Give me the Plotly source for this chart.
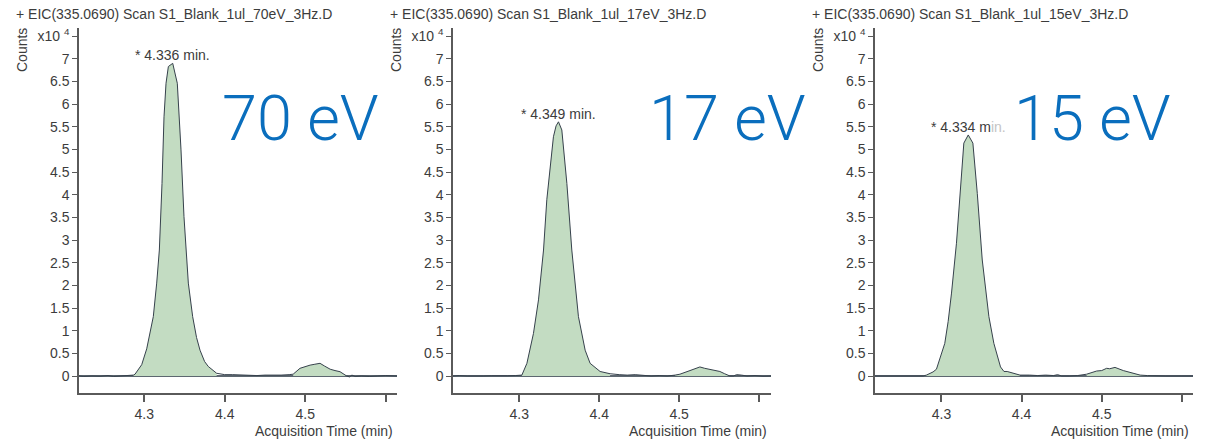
import plotly.graph_objects as go

W, H = 1209, 442

# ---------------- data (counts in units of 1e4) ----------------
titles = [
    "+ EIC(335.0690) Scan S1_Blank_1ul_70eV_3Hz.D",
    "+ EIC(335.0690) Scan S1_Blank_1ul_17eV_3Hz.D",
    "+ EIC(335.0690) Scan S1_Blank_1ul_15eV_3Hz.D",
]
energy_labels = ["70 eV", "17 eV", "15 eV"]
peak_labels = ["* 4.336 min.", "* 4.349 min.", "* 4.334 m<span style='color:#c4c4c4'>in.</span>"]
peak_times = [4.3354, 4.349, 4.3334]
peak_heights = [6.90, 5.61, 5.32]

t_70 = [4.219, 4.225, 4.235, 4.245, 4.255, 4.262, 4.270, 4.278, 4.2865, 4.2886,
        4.2948, 4.2969, 4.3031, 4.3113, 4.3155, 4.3188, 4.3221, 4.3246, 4.3271, 4.3300,
        4.3354, 4.3411, 4.3457, 4.3494, 4.3548, 4.3602, 4.3650, 4.3693, 4.3750, 4.3796,
        4.3900, 4.4000, 4.4100, 4.4200, 4.4300, 4.4400, 4.4500, 4.4600, 4.4700, 4.4800,
        4.4850, 4.4935, 4.5000, 4.5060, 4.5120, 4.5184, 4.5240, 4.5310, 4.5370, 4.5432,
        4.5515, 4.5550, 4.5580, 4.5620, 4.5700, 4.5800, 4.5900, 4.6000, 4.6140]
v_70 = [0.00, -0.01, 0.00, -0.005, 0.01, -0.01, 0.00, 0.01, 0.02, 0.04,
        0.20, 0.25, 0.60, 1.31, 2.05, 2.78, 4.25, 5.72, 6.46, 6.83,
        6.90, 6.46, 4.99, 3.52, 2.05, 1.31, 0.85, 0.57, 0.32, 0.21,
        0.06, 0.03, 0.03, 0.02, 0.02, 0.01, 0.02, 0.015, 0.02, 0.03,
        0.04, 0.17, 0.21, 0.24, 0.26, 0.28, 0.22, 0.15, 0.12, 0.095,
        0.00, -0.02, 0.02, -0.01, 0.00, -0.01, 0.00, 0.01, 0.00]

t_17 = [4.217, 4.225, 4.235, 4.245, 4.255, 4.265, 4.275, 4.285, 4.295, 4.3032,
        4.3095, 4.3177, 4.3240, 4.3303, 4.3344, 4.3386, 4.3427, 4.3460, 4.3490, 4.3532,
        4.3595, 4.3657, 4.3740, 4.3824, 4.3886, 4.4011, 4.4136, 4.4250, 4.4350, 4.4450,
        4.4550, 4.4650, 4.4750, 4.4850, 4.4950, 4.5010, 4.5136, 4.5260, 4.5320, 4.5386,
        4.5450, 4.5510, 4.5570, 4.5636, 4.5680, 4.5720, 4.5780, 4.5850, 4.5950, 4.6050,
        4.6150]
v_17 = [0.00, 0.01, 0.00, -0.005, 0.00, 0.005, 0.00, 0.005, 0.01, 0.02,
        0.28, 0.94, 1.68, 2.78, 3.89, 4.62, 5.28, 5.52, 5.61, 5.43,
        4.25, 2.78, 1.31, 0.57, 0.28, 0.10, 0.05, 0.03, 0.02, 0.03,
        0.01, 0.00, 0.01, 0.00, 0.02, 0.04, 0.12, 0.20, 0.17, 0.15,
        0.12, 0.10, 0.05, 0.00, 0.00, 0.03, 0.02, 0.00, 0.01, -0.005,
        0.00]

t_15 = [4.217, 4.230, 4.240, 4.250, 4.260, 4.270, 4.2770, 4.2812, 4.2895, 4.2937,
        4.2979, 4.3041, 4.3083, 4.3125, 4.3187, 4.3229, 4.3279, 4.3334, 4.3392, 4.3447,
        4.3509, 4.3592, 4.3654, 4.3737, 4.3780, 4.3820, 4.3895, 4.3980, 4.4100, 4.4200,
        4.4300, 4.4400, 4.4450, 4.4500, 4.4600, 4.4700, 4.4812, 4.4937, 4.5000, 4.5062,
        4.5100, 4.5166, 4.5270, 4.5395, 4.5480, 4.5570, 4.5670, 4.5800, 4.6000, 4.6140]
v_15 = [0.00, 0.00, 0.00, 0.00, 0.00, 0.00, 0.00, 0.02, 0.09, 0.15,
        0.37, 0.72, 1.20, 1.83, 2.93, 4.03, 5.14, 5.32, 5.14, 4.03,
        2.56, 1.31, 0.72, 0.20, 0.10, 0.10, 0.06, 0.02, 0.02, 0.01,
        0.02, 0.01, 0.03, 0.00, 0.00, 0.01, 0.04, 0.11, 0.12, 0.17,
        0.16, 0.19, 0.12, 0.07, 0.02, 0.01, 0.00, 0.00, 0.00, 0.00]

times = [t_70, t_17, t_15]
values = [v_70, v_17, v_15]
# integrated (filled) windows per panel: (start, end)
fill_windows = [
    [(4.2865, 4.3950), (4.4850, 4.5515)],
    [(4.3032, 4.4136), (4.4950, 4.5636)],
    [(4.2770, 4.3980), (4.4812, 4.5670)],
]

x_ranges = [[4.219, 4.614], [4.217, 4.615], [4.217, 4.614]]
x_tickvals = [4.3, 4.4, 4.5]
x_ticktext = ["4.3", "4.4", "4.5"]
x_unlabelled_ticks = [4.6]
y_tickvals = [0, 0.5, 1, 1.5, 2, 2.5, 3, 3.5, 4, 4.5, 5, 5.5, 6, 6.5, 7, 7.5]
y_ticktext = ["0", "0.5", "1", "1.5", "2", "2.5", "3", "3.5", "4", "4.5", "5",
              "5.5", "6", "6.5", "7", "x10 <sup>4</sup>"]

# ---------------- styling ----------------
LINE = "#36414c"
FILL = "#c3dcc2"
AXIS = "#5a5a5a"
TXT = "#3c3c3c"
BLUE = "#0a6ebd"
FONT = "Liberation Sans, Arial, sans-serif"
FS = 14

# pixel layout of the three panels
x_left_px = [79, 453, 875]
x_right_px = [397, 771, 1193]
y_top_px, y_bot_px = 28, 393

fig = go.Figure()
layout = dict(
    width=W, height=H, margin=dict(l=0, r=0, t=0, b=0),
    paper_bgcolor="white", plot_bgcolor="white", showlegend=False,
    font=dict(family=FONT, color=TXT, size=FS),
)
annotations = []

for i in range(3):
    sfx = "" if i == 0 else str(i + 1)
    xa, ya = "x" + sfx, "y" + sfx
    t, v = times[i], values[i]
    for (a, b) in fill_windows[i]:
        ft = [tt for tt in t if a <= tt <= b]
        fv = [vv for tt, vv in zip(t, v) if a <= tt <= b]
        fig.add_trace(go.Scatter(x=ft, y=fv, mode="lines", fill="tozeroy",
                                 fillcolor=FILL, line=dict(width=0, color=FILL),
                                 xaxis=xa, yaxis=ya, hoverinfo="skip"))
    fig.add_trace(go.Scatter(x=t, y=v, mode="lines",
                             line=dict(color=LINE, width=1),
                             xaxis=xa, yaxis=ya))

    layout["xaxis" + sfx] = dict(
        domain=[x_left_px[i] / W, x_right_px[i] / W], anchor=ya,
        range=x_ranges[i], showgrid=False, zeroline=False,
        showline=True, linecolor=AXIS, linewidth=1.5,
        ticks="outside", ticklen=7, tickcolor=AXIS, tickwidth=1.5,
        tickvals=x_tickvals, ticktext=x_ticktext,
        minor=dict(tickvals=x_unlabelled_ticks, ticks="outside", ticklen=7,
                   tickcolor=AXIS, tickwidth=1.5, showgrid=False),
        tickfont=dict(size=FS, color=TXT, family=FONT), automargin=False,
    )
    layout["yaxis" + sfx] = dict(
        domain=[1 - y_bot_px / H, 1 - y_top_px / H], anchor=xa,
        range=[-0.375, 7.68], showgrid=False,
        zeroline=True, zerolinecolor="#5d6770", zerolinewidth=1.5,
        showline=True, linecolor=AXIS, linewidth=1.5,
        ticks="outside", ticklen=5, tickcolor=AXIS, tickwidth=1,
        tickvals=y_tickvals, ticktext=y_ticktext,
        tickfont=dict(size=FS, color=TXT, family=FONT), automargin=False,
    )

    # panel title
    annotations.append(dict(xref="paper", yref="paper",
                            x=(x_left_px[i] - 65) / W, y=1 - 4 / H,
                            xanchor="left", yanchor="top", showarrow=False,
                            text=titles[i], font=dict(size=FS, color=TXT, family=FONT)))
    # y axis title
    annotations.append(dict(xref="paper", yref="paper",
                            x=(x_left_px[i] - 57) / W, y=1 - 50 / H,
                            xanchor="center", yanchor="middle", showarrow=False,
                            textangle=-90, text="Counts",
                            font=dict(size=FS, color=TXT, family=FONT)))
    # x axis title
    annotations.append(dict(xref="paper", yref="paper",
                            x=(x_right_px[i] - 2) / W, y=1 - 431 / H,
                            xanchor="right", yanchor="middle", showarrow=False,
                            text="Acquisition Time (min)",
                            font=dict(size=FS, color=TXT, family=FONT)))
    # peak label
    annotations.append(dict(xref=xa, yref=ya, x=peak_times[i], y=peak_heights[i],
                            xanchor="center", yanchor="bottom", showarrow=False,
                            text=peak_labels[i], yshift=-2,
                            font=dict(size=FS, color=TXT, family=FONT)))

big_x_px = [220, 647, 1012]
for i in range(3):
    annotations.append(dict(xref="paper", yref="paper",
                            x=big_x_px[i] / W, y=1 - 80 / H,
                            xanchor="left", yanchor="top", showarrow=False,
                            text=energy_labels[i],
                            font=dict(size=63, color=BLUE, family="Roboto", weight=300)))

layout["annotations"] = annotations
fig.update_layout(**layout)
fig.write_html("out.html", config={"displayModeBar": False},
               post_script="document.body.style.margin='0';")
